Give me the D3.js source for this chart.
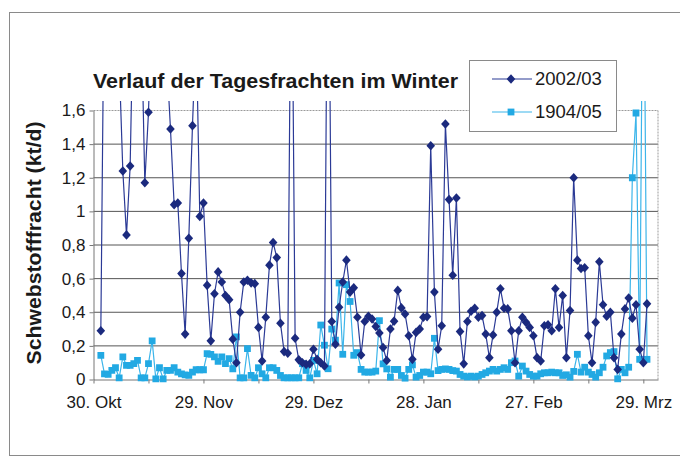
<!DOCTYPE html>
<meta charset="utf-8">
<script src="https://d3js.org/d3.v7.min.js"></script>
<style>
  body { margin: 0; background: #fff; }
  text { font-family: "Liberation Sans", Arial, sans-serif; fill: #1a1a1a; }
</style>
<div id="chart"></div>
<script>
// daily loads (kt/d), first value = 1. Nov, one value per day
var firstDay = new Date(Date.UTC(2002, 10, 1));

var winter_2002_03 = [
  0.29, 2.6, 3.4, 2.9, 2.2, 1.9, 1.24, 0.86, 1.27, 2.4,
  3.1, 2.2, 1.17, 1.59, 2.3, 2.8, 3.3, 2.6, 1.9, 1.49,
  1.04, 1.05, 0.63, 0.27, 0.84, 1.51, 2.1, 0.97, 1.05, 0.56,
  0.23, 0.51, 0.64, 0.58, 0.50, 0.475, 0.24, 0.10, 0.40, 0.58,
  0.59, 0.575, 0.57, 0.31, 0.11, 0.37, 0.68, 0.815, 0.725, 0.335,
  0.166, 0.156, 2.9, 0.245, 0.117, 0.10, 0.09, 0.093, 0.18, 0.12,
  0.10, 0.08, 3.2, 0.345, 0.21, 0.43, 0.58, 0.71, 0.52, 0.545,
  0.37, 0.146, 0.345, 0.376, 0.36, 0.315, 0.277, 0.19, 0.113, 0.30,
  0.347, 0.53, 0.426, 0.39, 0.26, 0.12, 0.28, 0.30, 0.37, 0.374,
  1.39, 0.52, 0.18, 0.32, 1.52, 1.07, 0.62, 1.08, 0.285, 0.093,
  0.345, 0.406, 0.424, 0.37, 0.38, 0.27, 0.13, 0.265, 0.40, 0.54,
  0.424, 0.42, 0.29, 0.10, 0.29, 0.37, 0.34, 0.31, 0.26, 0.13,
  0.11, 0.32, 0.325, 0.29, 0.54, 0.31, 0.50, 0.13, 0.41, 1.20,
  0.71, 0.66, 0.665, 0.26, 0.10, 0.34, 0.70, 0.445, 0.376, 0.40,
  0.13, 0.06, 0.27, 0.42, 0.485, 0.365, 0.445, 0.18, 0.10, 0.45
];

var winter_1904_05 = [
  0.144, 0.034, 0.03, 0.054, 0.07, 0.01, 0.134, 0.084, 0.084, 0.094,
  0.114, 0.01, 0.01, 0.094, 0.23, 0.004, 0.07, 0.004, 0.054, 0.054,
  0.07, 0.044, 0.034, 0.028, 0.024, 0.044, 0.058, 0.058, 0.058, 0.154,
  0.15, 0.134, 0.108, 0.134, 0.094, 0.124, 0.064, 0.254, 0.01, 0.01,
  0.184, 0.024, 0.01, 0.07, 0.034, 0.01, 0.07, 0.07, 0.054, 0.024,
  0.01, 0.01, 0.01, 0.01, 0.01, 0.094, 0.054, 0.01, 0.114, 0.034,
  0.324, 0.204, 0.064, 0.30, 0.234, 0.574, 0.15, 0.564, 0.464, 0.144,
  0.16, 0.06, 0.044, 0.044, 0.044, 0.05, 0.35, 0.093, 0.063, 0.014,
  0.06, 0.06, 0.024, 0.008, 0.06, 0.087, 0.014, 0.024, 0.044, 0.044,
  0.034, 0.245, 0.053, 0.06, 0.063, 0.06, 0.053, 0.05, 0.03, 0.02,
  0.015, 0.02, 0.015, 0.02, 0.03, 0.04, 0.05, 0.06, 0.05, 0.06,
  0.07, 0.06, 0.10, 0.11, 0.02, 0.08, 0.05, 0.03, 0.02, 0.02,
  0.034, 0.04, 0.04, 0.044, 0.04, 0.04, 0.024, 0.028, 0.014, 0.048,
  0.15, 0.044, 0.073, 0.044, 0.03, 0.014, 0.04, 0.073, 0.14, 0.16,
  0.166, 0.004, 0.06, 0.04, 0.073, 1.20, 1.585, 0.12, 3.0, 0.12
];

var yTicks = [0, 0.2, 0.4, 0.6, 0.8, 1, 1.2, 1.4, 1.6];
var xLabels = ["30. Okt", "29. Nov", "29. Dez", "28. Jan", "27. Feb", "29. Mrz"];
var seriesNames = ["2002/03", "1904/05"];

var dark = "#1b2a7e", darkLine = "#2b3a96";
var light = "#22a9e3", lightLine = "#3cb5ea";

var svg = d3.select("#chart").append("svg")
    .attr("width", 680)
    .attr("height", 457);

svg.append("rect").attr("width", 680).attr("height", 457).attr("fill", "#fff");
// outer chart frame
svg.append("rect")
    .attr("x", 9.5).attr("y", 12.5)
    .attr("width", 672).attr("height", 443)
    .attr("fill", "none").attr("stroke", "#8a8a8a");

var axisStart = new Date(Date.UTC(2002, 9, 30));
var x = d3.scaleUtc()
  .domain([axisStart, new Date(Date.UTC(2003, 3, 2))])
  .range([93.5, 658]);
var y = d3.scaleLinear()
  .domain([0, 1.6])
  .range([379.5, 110.5]);

// gridlines
svg.append("g")
  .selectAll("line")
  .data(yTicks.filter(function(d) { return d > 0; }))
  .enter().append("line")
    .attr("x1", x.range()[0]).attr("x2", x.range()[1])
    .attr("y1", function(d) { return y(d); })
    .attr("y2", function(d) { return y(d); })
    .attr("stroke", function(d) { return d == 1.6 ? "#9a9a9a" : "#555"; })
    .attr("stroke-dasharray", function(d) { return d == 1.6 ? "2,1" : null; });
// right border of plot area
svg.append("line")
    .attr("x1", 658).attr("x2", 658)
    .attr("y1", y(1.6)).attr("y2", y(0))
    .attr("stroke", "#9a9a9a").attr("stroke-dasharray", "2,1");

// axes
var xTicks = d3.range(11).map(function(i) { return d3.utcDay.offset(axisStart, 15 * i); });
var xAxis = svg.append("g")
  .attr("transform", "translate(0," + y(0) + ")")
  .call(d3.axisBottom(x)
    .tickValues(xTicks)
    .tickSizeInner(4).tickSizeOuter(0)
    .tickPadding(12)
    .tickFormat(function(d, i) { return i % 2 == 0 ? xLabels[i / 2] : ""; }));
xAxis.select(".domain").attr("stroke", "#777");
xAxis.selectAll(".tick line").attr("stroke", "#777");
xAxis.selectAll("text").style("font-size", "17px").attr("fill", "#1a1a1a");

var yAxis = svg.append("g")
  .attr("transform", "translate(" + x.range()[0] + ",0)")
  .call(d3.axisLeft(y)
    .tickValues(yTicks)
    .tickSizeInner(4).tickSizeOuter(0)
    .tickPadding(4)
    .tickFormat(function(d) { return String(+d.toFixed(1)).replace(".", ","); }));
yAxis.select(".domain").attr("stroke", "#777");
yAxis.selectAll(".tick line").attr("stroke", "#777");
yAxis.selectAll("text").style("font-size", "17px").attr("fill", "#1a1a1a");

// clipping: lines above the axis max run a few px past the top
svg.append("clipPath").attr("id", "plotclip")
  .append("rect")
    .attr("x", x.range()[0]).attr("y", 101)
    .attr("width", 658 - x.range()[0]).attr("height", 282);

var plot = svg.append("g").attr("clip-path", "url(#plotclip)");

function toPoints(values) {
  return values.map(function(v, i) { return { date: d3.utcDay.offset(firstDay, i), value: v }; });
}

var line = d3.line()
  .x(function(d) { return x(d.date); })
  .y(function(d) { return y(d.value); });

var diamond = "M0,-4.8L4.3,0L0,4.8L-4.3,0Z";
var square = "M-3.4,-3.4H3.4V3.4H-3.4Z";

function drawSeries(values, lineColor, markColor, shape) {
  var pts = toPoints(values);
  plot.append("path")
    .datum(pts)
    .attr("d", line)
    .attr("fill", "none")
    .attr("stroke", lineColor)
    .attr("stroke-width", 1.2);
  plot.append("g")
    .selectAll("path")
    .data(pts.filter(function(d) { return d.value <= 1.6; }))
    .enter().append("path")
      .attr("d", shape)
      .attr("transform", function(d) { return "translate(" + x(d.date) + "," + y(d.value) + ")"; })
      .attr("fill", markColor);
}

drawSeries(winter_1904_05, lightLine, light, square);
drawSeries(winter_2002_03, darkLine, dark, diamond);

// title
svg.append("text")
    .attr("x", 93).attr("y", 88)
    .attr("textLength", 365)
    .attr("lengthAdjust", "spacingAndGlyphs")
    .style("font-size", "20px").style("font-weight", "bold")
    .text("Verlauf der Tagesfrachten im Winter");

// y axis title
svg.append("text")
    .attr("transform", "translate(41,243) rotate(-90)")
    .attr("text-anchor", "middle")
    .attr("textLength", 243)
    .attr("lengthAdjust", "spacingAndGlyphs")
    .style("font-size", "20px").style("font-weight", "bold")
    .text("Schwebstofffracht (kt/d)");

// legend
var legend = svg.append("g");
legend.append("rect")
    .attr("x", 469.5).attr("y", 60.5)
    .attr("width", 147).attr("height", 71)
    .attr("fill", "#fff").attr("stroke", "#8a8a8a");

var legendRows = [
  { name: seriesNames[0], y: 79, lineColor: darkLine, color: dark, shape: diamond },
  { name: seriesNames[1], y: 112, lineColor: lightLine, color: light, shape: square }
];
legendRows.forEach(function(r) {
  legend.append("line")
    .attr("x1", 492).attr("x2", 532)
    .attr("y1", r.y).attr("y2", r.y)
    .attr("stroke", r.lineColor).attr("stroke-width", 1.2);
  legend.append("path")
    .attr("d", r.shape)
    .attr("transform", "translate(511," + r.y + ")")
    .attr("fill", r.color);
  legend.append("text")
    .attr("x", 535).attr("y", r.y + 6)
    .style("font-size", "18.5px")
    .text(r.name);
});
</script>
